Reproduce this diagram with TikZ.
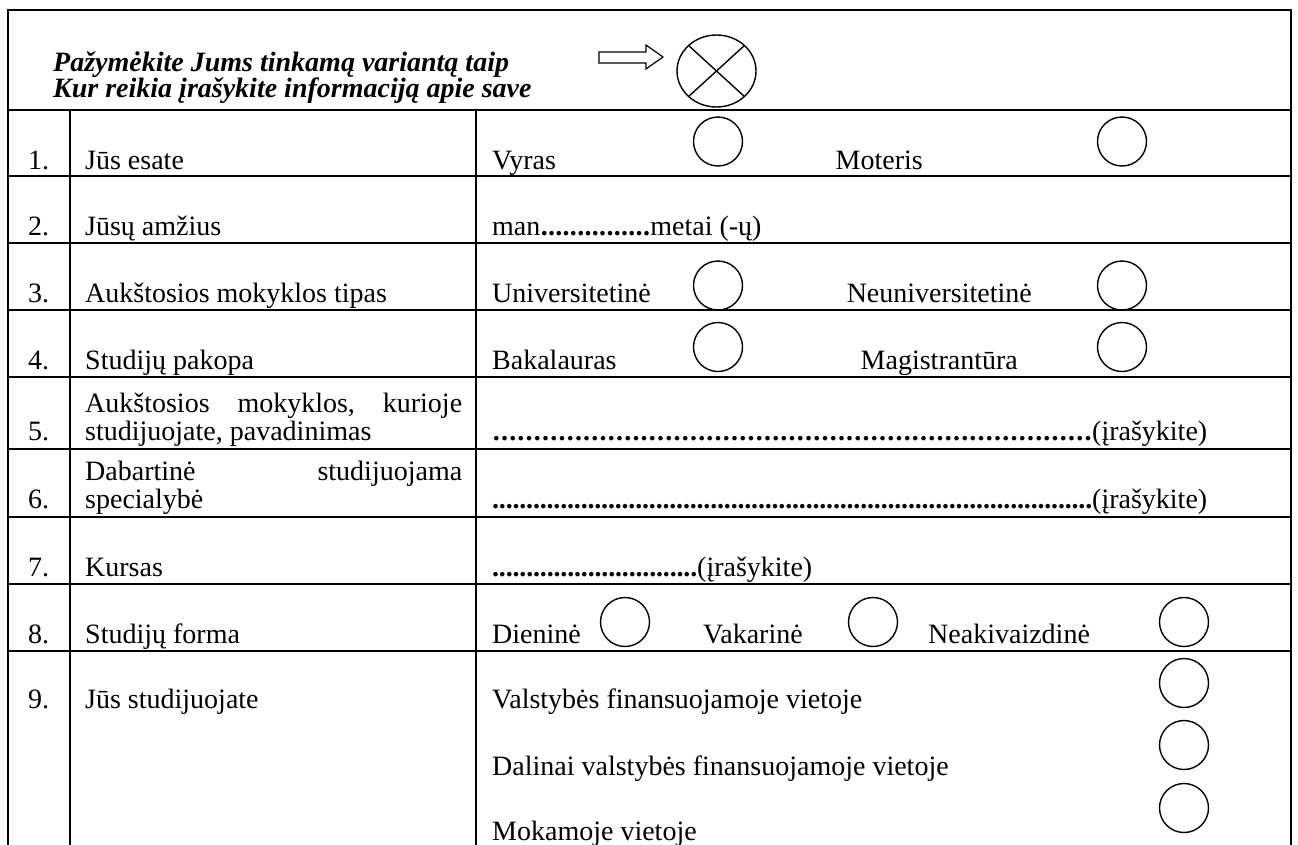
\documentclass[tikz,border=0pt]{standalone}
\usepackage{fontspec}
\setmainfont{Liberation Serif}
\usetikzlibrary{calc}
\newcommand{\fsz}{\fontsize{28}{31}\selectfont}
\newcommand{\dotrow}[2]{\hbox to #1{\xleaders\hbox to #2{\hss\textbf{.}\hss}\hfill}}
\begin{document}
\begin{tikzpicture}[x=1pt,y=-1pt,
  txt/.style={inner sep=0pt, anchor=base west, font=\fsz},
  txte/.style={inner sep=0pt, anchor=base east, font=\fsz},
  num/.style={inner sep=0pt, anchor=base west, font=\fsz},
  hdr/.style={inner sep=0pt, anchor=base west, font=\fsz\bfseries\itshape},
  ring/.style={draw, circle, line width=1.4pt, minimum size=49pt, inner sep=0pt},
  thickline/.style={line width=2pt},
  thinline/.style={line width=1.1pt}]
\useasboundingbox (0,0) rectangle (1298,844);
\clip (0,0) rectangle (1298,844);
% corners of the table
\coordinate (tl) at (8,10);
\coordinate (tr) at (1291,10);
\coordinate (bl) at (8,860);
\coordinate (br) at (1291,860);
% outer border
\draw[thickline] (bl) -- (tl) -- (tr) -- (br);
% horizontal rules
\foreach \yy in {110,176,243,310,377,449,517,584}{
  \draw[thickline] (8,\yy) -- (1291,\yy);
}
\draw[thinline] (8,651) -- (1291,651);
% column dividers
\draw[thickline] (70,110) -- (70,860);
\draw[thinline] (476,110) -- (476,860);

% header
\node[hdr] (h1) at (53,71) {Pažymėkite Jums tinkamą variantą taip};
\node[hdr] (h2) at (53,97) {Kur reikia įrašykite informaciją apie save};
\draw[line width=1.2pt] (599,52) -- (646,52) -- (646,45) -- (663,57) -- (646,69) -- (646,63) -- (599,63) -- cycle;
\coordinate (xc) at (716.5,71);
\draw[line width=1.4pt] (xc) ellipse [x radius=39.5pt, y radius=36pt];
\draw[line width=1.4pt] ($(xc)+(-27.9,-25.5)$) -- ($(xc)+(27.9,25.5)$);
\draw[line width=1.4pt] ($(xc)+(27.9,-25.5)$) -- ($(xc)+(-27.9,25.5)$);

% numbers
\node[num] (n1) at (28,169) {1.};
\node[num] (n2) at (28,235) {2.};
\node[num] (n3) at (28,302) {3.};
\node[num] (n4) at (28,369) {4.};
\node[num] (n5) at (28,440) {5.};
\node[num] (n6) at (28,508) {6.};
\node[num] (n7) at (28,576) {7.};
\node[num] (n8) at (28,643) {8.};
\node[num] (n9) at (28,708) {9.};

% questions
\node[txt] (q1) at (85,169) {Jūs esate};
\node[txt] (q2) at (85,235) {Jūsų amžius};
\node[txt] (q3) at (85,302) {Aukštosios mokyklos tipas};
\node[txt] (q4) at (85,369) {Studijų pakopa};
\node[txt] (q5a) at (85,412) {\hbox to 377pt{Aukštosios\hfill mokyklos,\hfill kurioje}};
\node[txt] (q5b) at (85,440) {studijuojate, pavadinimas};
\node[txt] (q6a) at (85,480) {\hbox to 377pt{Dabartinė\hfill studijuojama}};
\node[txt] (q6b) at (85,508) {specialybė};
\node[txt] (q7) at (85,576) {Kursas};
\node[txt] (q8) at (85,643) {Studijų forma};
\node[txt] (q9) at (85,708) {Jūs studijuojate};

% answers
\node[txt] (a1a) at (492,169) {Vyras};
\node[ring] (c1a) at (718,141.5) {};
\node[txte] (a1b) at (923,169) {Moteris};
\node[ring] (c1b) at (1122,141.5) {};

\node[txt] (a2) at (492,235) {man\dotrow{110pt}{6.9pt}metai (-ų)};

\node[txt] (a3a) at (492,302) {Universitetinė};
\node[ring] (c3a) at (718,285.5) {};
\node[txte] (a3b) at (1032,302) {Neuniversitetinė};
\node[ring] (c3b) at (1122,285.5) {};

\node[txt] (a4a) at (492,369) {Bakalauras};
\node[ring] (c4a) at (718,347) {};
\node[txte] (a4b) at (1018,369) {Magistrantūra};
\node[ring] (c4b) at (1122,347) {};

\node[txt] (a5) at (492,440) {\dotrow{600pt}{8.2pt}(įrašykite)};
\node[txt] (a6) at (492,508) {\dotrow{600pt}{6.8pt}(įrašykite)};
\node[txt] (a7) at (492,576) {\dotrow{205pt}{6.8pt}(įrašykite)};

\node[txt] (a8a) at (492,643) {Dieninė};
\node[ring] (c8a) at (625,622) {};
\node[txt] (a8b) at (703,643) {Vakarinė};
\node[ring] (c8b) at (873,622) {};
\node[txt] (a8c) at (928,643) {Neakivaizdinė};
\node[ring] (c8c) at (1184,622) {};

\node[txt] (a9a) at (492,708) {Valstybės finansuojamoje vietoje};
\node[ring] (c9a) at (1184,683) {};
\node[txt] (a9b) at (492,775) {Dalinai valstybės finansuojamoje vietoje};
\node[ring] (c9b) at (1184,745) {};
\node[txt] (a9c) at (492,840) {Mokamoje vietoje};
\node[ring] (c9c) at (1184,808) {};
\end{tikzpicture}
\end{document}
